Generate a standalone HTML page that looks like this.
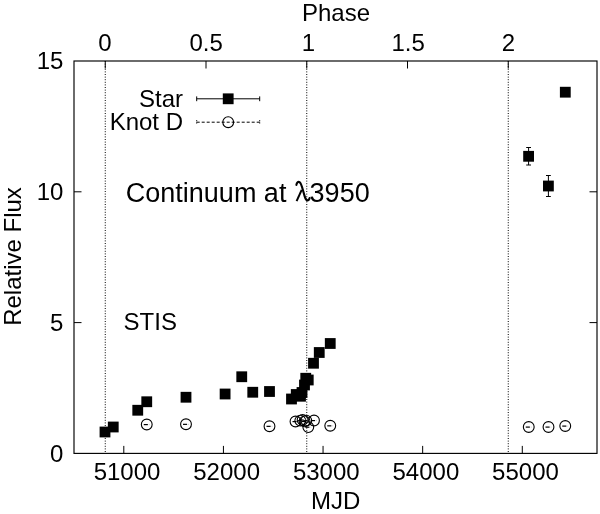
<!DOCTYPE html><html><head><meta charset="utf-8"><style>html,body{margin:0;padding:0;background:#fff}svg{display:block;will-change:transform;opacity:0.999}text{font-family:"Liberation Sans",sans-serif;fill:#000}</style></head><body>
<svg width="600" height="514" viewBox="0 0 600 514">
<rect width="600" height="514" fill="#fff"/>
<line x1="105.25" y1="61.0" x2="105.25" y2="453.4" stroke="#000" stroke-width="1" stroke-dasharray="1 1.6"/>
<line x1="306.75" y1="61.0" x2="306.75" y2="453.4" stroke="#000" stroke-width="1" stroke-dasharray="1 1.6"/>
<line x1="508.25" y1="61.0" x2="508.25" y2="453.4" stroke="#000" stroke-width="1" stroke-dasharray="1 1.6"/>
<rect x="74.0" y="61.0" width="523.0" height="392.4" fill="none" stroke="#000" stroke-width="1.15"/>
<line x1="123.81" y1="453.4" x2="123.81" y2="445.9" stroke="#000" stroke-width="1"/>
<text x="127.01" y="480.1" font-size="24" text-anchor="middle">51000</text>
<line x1="223.43" y1="453.4" x2="223.43" y2="445.9" stroke="#000" stroke-width="1"/>
<text x="226.63" y="480.1" font-size="24" text-anchor="middle">52000</text>
<line x1="323.05" y1="453.4" x2="323.05" y2="445.9" stroke="#000" stroke-width="1"/>
<text x="326.25" y="480.1" font-size="24" text-anchor="middle">53000</text>
<line x1="422.67" y1="453.4" x2="422.67" y2="445.9" stroke="#000" stroke-width="1"/>
<text x="425.87" y="480.1" font-size="24" text-anchor="middle">54000</text>
<line x1="522.29" y1="453.4" x2="522.29" y2="445.9" stroke="#000" stroke-width="1"/>
<text x="525.49" y="480.1" font-size="24" text-anchor="middle">55000</text>
<line x1="105.25" y1="61.0" x2="105.25" y2="68.5" stroke="#000" stroke-width="1"/>
<text x="104.95" y="51.2" font-size="24" text-anchor="middle">0</text>
<line x1="206.00" y1="61.0" x2="206.00" y2="68.5" stroke="#000" stroke-width="1"/>
<text x="206.10" y="51.2" font-size="24" text-anchor="middle">0.5</text>
<line x1="306.75" y1="61.0" x2="306.75" y2="68.5" stroke="#000" stroke-width="1"/>
<text x="308.35" y="51.2" font-size="24" text-anchor="middle">1</text>
<line x1="407.50" y1="61.0" x2="407.50" y2="68.5" stroke="#000" stroke-width="1"/>
<text x="408.10" y="51.2" font-size="24" text-anchor="middle">1.5</text>
<line x1="508.25" y1="61.0" x2="508.25" y2="68.5" stroke="#000" stroke-width="1"/>
<text x="508.55" y="51.2" font-size="24" text-anchor="middle">2</text>
<text x="63.4" y="461.70" font-size="24" text-anchor="end">0</text>
<line x1="74.0" y1="322.60" x2="81.5" y2="322.60" stroke="#000" stroke-width="1"/>
<line x1="597.0" y1="322.60" x2="589.5" y2="322.60" stroke="#000" stroke-width="1"/>
<text x="63.4" y="331.00" font-size="24" text-anchor="end">5</text>
<line x1="74.0" y1="191.80" x2="81.5" y2="191.80" stroke="#000" stroke-width="1"/>
<line x1="597.0" y1="191.80" x2="589.5" y2="191.80" stroke="#000" stroke-width="1"/>
<text x="63.4" y="200.00" font-size="24" text-anchor="end">10</text>
<text x="63.4" y="68.60" font-size="24" text-anchor="end">15</text>
<text x="336" y="21.3" font-size="24" text-anchor="middle">Phase</text>
<text x="335.6" y="509" font-size="24" text-anchor="middle">MJD</text>
<text transform="translate(21.0,256.5) rotate(-90)" font-size="24" text-anchor="middle">Relative Flux</text>
<text x="183" y="107" font-size="24" text-anchor="end">Star</text>
<text x="183" y="130.3" font-size="24" text-anchor="end">Knot D</text>
<text x="125.8" y="201.7" font-size="27">Continuum at</text>
<path d="M296.4 184.9C296.7 182.8 297.9 181.6 299.2 181.9C300.6 182.3 301.3 184.5 302.1 187.3L304.7 196.4C305.5 199.1 306.2 200.4 307.4 200.4C308.5 200.4 309.2 199.5 309.6 198.1" fill="none" stroke="#000" stroke-width="2.1" stroke-linecap="round" stroke-linejoin="round"/>
<path d="M301.7 189.8L296.6 201.2" fill="none" stroke="#000" stroke-width="2.0" stroke-linecap="butt"/>
<text x="309.6" y="201.7" font-size="27">3950</text>
<text x="123.6" y="330.3" font-size="24">STIS</text>
<path d="M196.7 98.8H259.7M196.7 96.4V101.2M259.7 96.4V101.2" stroke="#000" stroke-width="1" fill="none"/>
<rect x="222.79999999999998" y="93.39999999999999" width="10.8" height="10.8" fill="#000"/>
<path d="M196.7 122.2H259.7" stroke="#000" stroke-width="1" stroke-dasharray="3 2" fill="none"/>
<path d="M196.7 120V124.4M259.7 120V124.4" stroke="#222" stroke-width="1" stroke-dasharray="1.4 0.8" fill="none"/>
<circle cx="228.2" cy="122.2" r="5.4" fill="none" stroke="#000" stroke-width="1.1"/>
<path d="M528.6 147.5V165M526.2 147.5H531.0M526.2 165H531.0" stroke="#000" stroke-width="1" fill="none"/>
<path d="M548.4 175.5V196.5M546.0 175.5H550.8M546.0 196.5H550.8" stroke="#000" stroke-width="1" fill="none"/>
<rect x="99.60" y="426.60" width="10.8" height="10.8" fill="#000"/>
<rect x="107.85" y="421.60" width="10.8" height="10.8" fill="#000"/>
<rect x="132.35" y="404.85" width="10.8" height="10.8" fill="#000"/>
<rect x="141.35" y="396.35" width="10.8" height="10.8" fill="#000"/>
<rect x="180.60" y="391.85" width="10.8" height="10.8" fill="#000"/>
<rect x="219.70" y="388.60" width="10.8" height="10.8" fill="#000"/>
<rect x="236.35" y="371.35" width="10.8" height="10.8" fill="#000"/>
<rect x="247.35" y="386.85" width="10.8" height="10.8" fill="#000"/>
<rect x="264.10" y="386.10" width="10.8" height="10.8" fill="#000"/>
<rect x="286.10" y="393.60" width="10.8" height="10.8" fill="#000"/>
<rect x="290.85" y="389.10" width="10.8" height="10.8" fill="#000"/>
<rect x="295.10" y="390.85" width="10.8" height="10.8" fill="#000"/>
<rect x="296.60" y="387.10" width="10.8" height="10.8" fill="#000"/>
<rect x="299.10" y="379.60" width="10.8" height="10.8" fill="#000"/>
<rect x="300.35" y="372.85" width="10.8" height="10.8" fill="#000"/>
<rect x="302.85" y="374.60" width="10.8" height="10.8" fill="#000"/>
<rect x="308.10" y="357.85" width="10.8" height="10.8" fill="#000"/>
<rect x="313.85" y="347.10" width="10.8" height="10.8" fill="#000"/>
<rect x="324.85" y="338.10" width="10.8" height="10.8" fill="#000"/>
<rect x="559.90" y="86.80" width="10.8" height="10.8" fill="#000"/>
<rect x="523.20" y="150.90" width="10.8" height="10.8" fill="#000"/>
<rect x="543.00" y="180.60" width="10.8" height="10.8" fill="#000"/>
<circle cx="146.75" cy="424.5" r="5.4" fill="none" stroke="#000" stroke-width="1.1"/>
<path d="M143.75 424.60H147.85" stroke="#000" stroke-width="1.2"/><path d="M148.75 424.60H149.75" stroke="#ccc" stroke-width="1"/>
<circle cx="186" cy="424.25" r="5.4" fill="none" stroke="#000" stroke-width="1.1"/>
<path d="M183.00 424.35H187.10" stroke="#000" stroke-width="1.2"/><path d="M188.00 424.35H189.00" stroke="#ccc" stroke-width="1"/>
<circle cx="269.5" cy="426.25" r="5.4" fill="none" stroke="#000" stroke-width="1.1"/>
<path d="M266.50 426.35H270.60" stroke="#000" stroke-width="1.2"/><path d="M271.50 426.35H272.50" stroke="#ccc" stroke-width="1"/>
<circle cx="330.25" cy="425.75" r="5.4" fill="none" stroke="#000" stroke-width="1.1"/>
<path d="M327.25 425.85H331.35" stroke="#000" stroke-width="1.2"/><path d="M332.25 425.85H333.25" stroke="#ccc" stroke-width="1"/>
<circle cx="295.5" cy="421.5" r="5.4" fill="none" stroke="#000" stroke-width="1.1"/>
<path d="M292.50 421.60H296.60" stroke="#000" stroke-width="1.2"/><path d="M297.50 421.60H298.50" stroke="#ccc" stroke-width="1"/>
<circle cx="300.3" cy="420.6" r="5.4" fill="none" stroke="#000" stroke-width="1.1"/>
<path d="M297.30 420.70H301.40" stroke="#000" stroke-width="1.2"/><path d="M302.30 420.70H303.30" stroke="#ccc" stroke-width="1"/>
<circle cx="302.6" cy="419.9" r="5.4" fill="none" stroke="#000" stroke-width="1.1"/>
<path d="M299.60 420.00H303.70" stroke="#000" stroke-width="1.2"/><path d="M304.60 420.00H305.60" stroke="#ccc" stroke-width="1"/>
<circle cx="304.6" cy="421.4" r="5.4" fill="none" stroke="#000" stroke-width="1.1"/>
<path d="M301.60 421.50H305.70" stroke="#000" stroke-width="1.2"/><path d="M306.60 421.50H307.60" stroke="#ccc" stroke-width="1"/>
<circle cx="306.3" cy="420.6" r="5.4" fill="none" stroke="#000" stroke-width="1.1"/>
<path d="M303.30 420.70H307.40" stroke="#000" stroke-width="1.2"/><path d="M308.30 420.70H309.30" stroke="#ccc" stroke-width="1"/>
<circle cx="308.3" cy="427.1" r="5.4" fill="none" stroke="#000" stroke-width="1.1"/>
<path d="M305.30 427.20H309.40" stroke="#000" stroke-width="1.2"/><path d="M310.30 427.20H311.30" stroke="#ccc" stroke-width="1"/>
<circle cx="314" cy="420.5" r="5.4" fill="none" stroke="#000" stroke-width="1.1"/>
<path d="M311.00 420.60H315.10" stroke="#000" stroke-width="1.2"/><path d="M316.00 420.60H317.00" stroke="#ccc" stroke-width="1"/>
<circle cx="528.75" cy="427" r="5.4" fill="none" stroke="#000" stroke-width="1.1"/>
<path d="M525.75 427.10H529.85" stroke="#000" stroke-width="1.2"/><path d="M530.75 427.10H531.75" stroke="#ccc" stroke-width="1"/>
<circle cx="548.5" cy="427" r="5.4" fill="none" stroke="#000" stroke-width="1.1"/>
<path d="M545.50 427.10H549.60" stroke="#000" stroke-width="1.2"/><path d="M550.50 427.10H551.50" stroke="#ccc" stroke-width="1"/>
<circle cx="565.25" cy="426" r="5.4" fill="none" stroke="#000" stroke-width="1.1"/>
<path d="M562.25 426.10H566.35" stroke="#000" stroke-width="1.2"/><path d="M567.25 426.10H568.25" stroke="#ccc" stroke-width="1"/>
</svg></body></html>
